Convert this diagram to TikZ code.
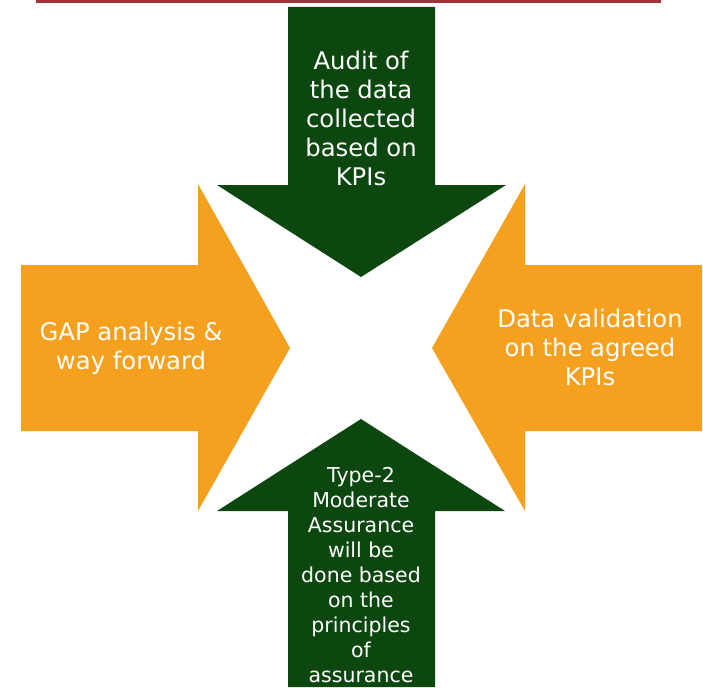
\documentclass[tikz,border=0pt]{standalone}
\usepackage{fontspec}
\setmainfont{DejaVu Sans}
\definecolor{dgreen}{HTML}{0D4710}
\definecolor{aorange}{HTML}{F5A01E}
\definecolor{barred}{HTML}{A0343A}
\begin{document}
\begin{tikzpicture}[x=1pt,y=-1pt,
  bigtxt/.style={text=white,align=center,font=\fontsize{24.3}{29}\selectfont,inner sep=0pt},
  smalltxt/.style={text=white,align=center,font=\fontsize{20.5}{25}\selectfont,inner sep=0pt}]
\useasboundingbox (0,0) rectangle (703,687);
% top bar
\fill[barred] (36,0) rectangle (661,3);
% top green arrow
\fill[dgreen] (288,7) -- (435,7) -- (435,185) -- (506,185) -- (361,277) -- (217,185) -- (288,185) -- cycle;
% bottom green arrow
\fill[dgreen] (288,687) -- (435,687) -- (435,511) -- (505,511) -- (361,419) -- (217,511) -- (288,511) -- cycle;
% left orange arrow
\fill[aorange] (21,265) -- (198,265) -- (198,184) -- (290,348) -- (198,511) -- (198,431) -- (21,431) -- cycle;
% right orange arrow
\fill[aorange] (702,265) -- (525,265) -- (525,184) -- (432,348) -- (525,511) -- (525,431) -- (702,431) -- cycle;
% texts
\node[bigtxt] (top) at (361,118) {Audit of\\the data\\collected\\based on\\KPIs};
\node[bigtxt] (left) at (131,348) {GAP analysis \&\\way forward};
\node[bigtxt] (right) at (590,347) {Data validation\\on the agreed\\KPIs};
\node[smalltxt] (bottom) at (361,575) {Type-2\\Moderate\\Assurance\\will be\\done based\\on the\\principles\\of\\assurance};
\end{tikzpicture}
\end{document}
